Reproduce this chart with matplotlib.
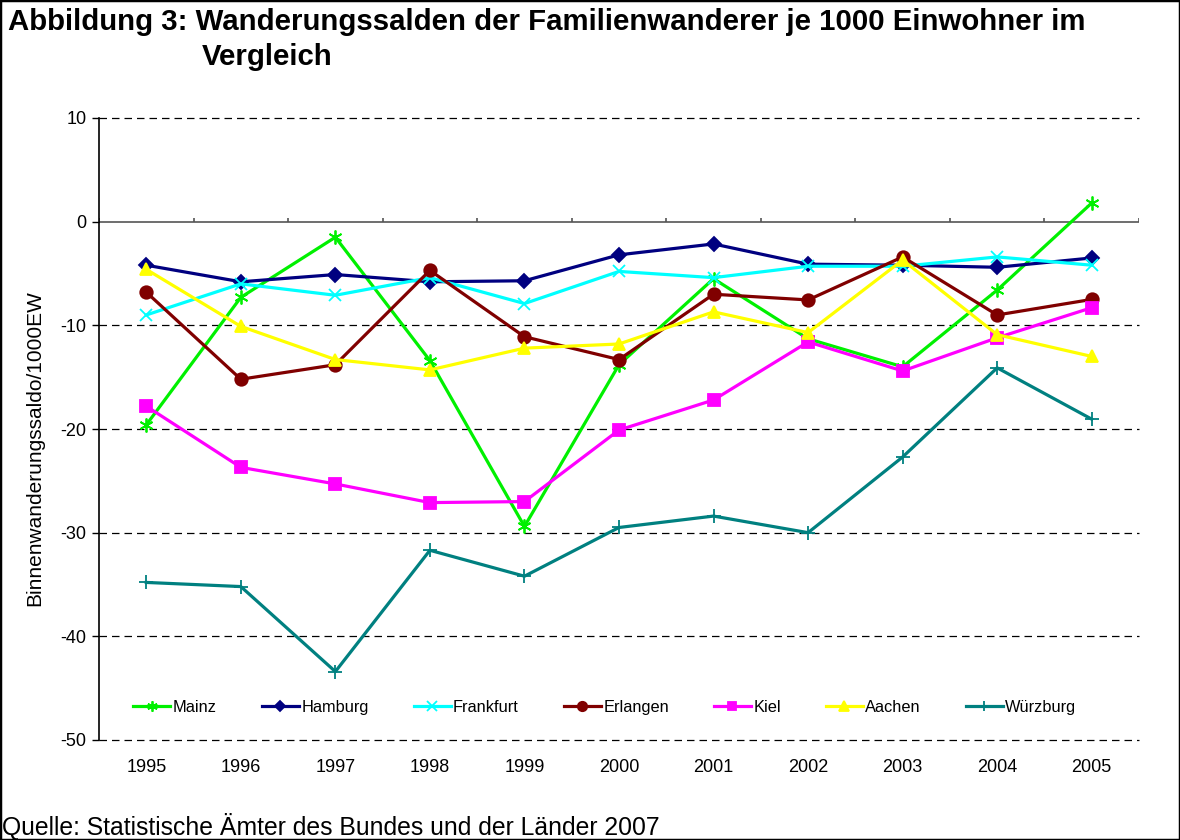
import matplotlib.pyplot as plt
import numpy as np
from matplotlib.patches import Rectangle
from matplotlib.transforms import blended_transform_factory

plt.rcParams['font.family'] = ['Liberation Sans', 'DejaVu Sans']
plt.rcParams['axes.unicode_minus'] = False

# DATA
years = ['1995', '1996', '1997', '1998', '1999', '2000', '2001', '2002', '2003', '2004', '2005']
mainz = [-19.6, -7.3, -1.5, -13.4, -29.4, -13.8, -5.5, -11.3, -14.0, -6.6, 1.8]
hamburg = [-4.2, -5.8, -5.1, -5.8, -5.7, -3.2, -2.15, -4.1, -4.2, -4.4, -3.5]
frankfurt = [-9.0, -6.0, -7.1, -5.4, -7.9, -4.8, -5.4, -4.3, -4.3, -3.4, -4.2]
erlangen = [-6.8, -15.2, -13.8, -4.7, -11.1, -13.3, -7.0, -7.55, -3.4, -9.0, -7.5]
kiel = [-17.8, -23.7, -25.3, -27.1, -27.0, -20.1, -17.2, -11.6, -14.4, -11.2, -8.3]
aachen = [-4.6, -10.1, -13.3, -14.3, -12.2, -11.8, -8.7, -10.7, -3.7, -10.9, -13.0]
wuerzburg = [-34.8, -35.2, -43.4, -31.7, -34.2, -29.5, -28.4, -30.0, -22.7, -14.1, -19.05]

series = [
    ('Mainz', mainz, '#00F000', (6, 2, 0), 10),
    ('Hamburg', hamburg, '#000080', 'D', 7),
    ('Frankfurt', frankfurt, '#00FFFF', 'x', 9),
    ('Erlangen', erlangen, '#800000', 'o', 9),
    ('Kiel', kiel, '#FF00FF', 's', 8.5),
    ('Aachen', aachen, '#FFFF00', '^', 9),
    ('Würzburg', wuerzburg, '#008080', '+', 10),
]

fig = plt.figure(figsize=(11.8, 8.4), dpi=100)
ax = fig.add_axes([99 / 1180, 1 - 740 / 840, 1040 / 1180, 622 / 840])

x = np.arange(len(years))
for name, vals, col, mk, ms in series:
    ax.plot(x, vals, color=col, lw=2.3, marker=mk, markersize=ms,
            markeredgewidth=1.3, markeredgecolor=col, markerfacecolor=col, label=name)

ax.set_xlim(-0.5, len(years) - 0.5)
ax.set_ylim(-50, 10)
ax.set_yticks([-50, -40, -30, -20, -10, 0, 10])
ax.tick_params(axis='y', labelsize=13, length=5, width=1, direction='out', pad=4)

# gridlines (dashed) except at zero, where the category axis sits
for yv in [10, -10, -20, -30, -40, -50]:
    ax.axhline(yv, color='black', lw=0.9, ls=(0, (6, 4)), zorder=0, clip_on=False)
ax.axhline(0, color='#555555', lw=1.2, zorder=1)
bounds = np.arange(len(years) + 1) - 0.5
ax.vlines(bounds, 0, 0.4, color='#555555', lw=1.2, zorder=1)

for s in ['top', 'right', 'bottom']:
    ax.spines[s].set_visible(False)
ax.spines['left'].set_linewidth(1.2)

ax.set_xticks([])
tr = blended_transform_factory(ax.transData, ax.transAxes)
for i, yr in enumerate(years):
    ax.text(i, -0.044, yr, transform=tr, ha='center', va='center', fontsize=13)

ax.set_ylabel('Binnenwanderungssaldo/1000EW', fontsize=15)
ax.yaxis.set_label_coords(-0.053, 0.47)

ax.legend(loc='center', bbox_to_anchor=(0.4865, 0.053), ncol=7, frameon=False,
          fontsize=11.8, handlelength=2.25, handletextpad=0.15, columnspacing=2.75,
          markerscale=0.75)

fig.text(8 / 1180, 1 - 22 / 840, 'Abbildung 3: Wanderungssalden der Familienwanderer je 1000 Einwohner im',
         fontsize=21.2, fontweight='bold', ha='left', va='center')
fig.text(202 / 1180, 1 - 57 / 840, 'Vergleich',
         fontsize=21.2, fontweight='bold', ha='left', va='center')
fig.text(2 / 1180, 1 - 826 / 840, 'Quelle: Statistische Ämter des Bundes und der Länder 2007',
         fontsize=17.8, ha='left', va='center')

fig.patches.append(Rectangle((0, 0), 1, 1, transform=fig.transFigure, fill=False,
                             edgecolor='black', lw=2.5))

fig.savefig('out.png', dpi=100)
